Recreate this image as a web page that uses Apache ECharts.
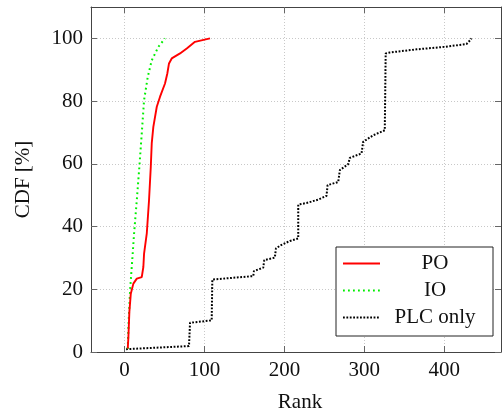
<!DOCTYPE html>
<html>
<head>
<meta charset="utf-8">
<script src="https://cdn.jsdelivr.net/npm/echarts@6/dist/echarts.min.js"></script>
<style>
  html, body { margin: 0; padding: 0; background: #fff; }
  #container { width: 502px; height: 419px; }
</style>
</head>
<body>
<div id="container"></div>
<script>
// data
var seriesNames = ['PO', 'IO', 'PLC only'];

var poRank = [4, 4.8, 6, 7.8, 11, 15.3, 21.5, 23.5, 24.4, 27.8, 30.6, 32.8, 34, 36, 40.3, 44.4, 50.6, 53.5, 55.6, 59, 69.4, 77.8, 88.1, 106.9];
var poCdf = [1.1, 4.8, 12.8, 18.6, 21.8, 23.4, 23.9, 27.1, 31.4, 37.8, 48.4, 59, 66.5, 71.8, 78.2, 81.4, 85.6, 88.8, 92, 93.6, 95.2, 96.8, 98.9, 100];

var ioRank = [4, 4.8, 6.9, 9, 11.9, 15.3, 18.5, 21.5, 24.4, 29, 34, 42.3, 50.6];
var ioCdf = [1, 8, 19.7, 27.1, 37.8, 48.4, 59, 69.7, 80.3, 87.7, 93, 97.3, 100];

var plcRank = [1.9, 80.6, 81.9, 109, 109.8, 161, 161.9, 173.5, 174.8, 188, 189.4, 195.2, 206.9, 217.3, 217.3, 227.7, 242.3, 252.7, 254, 267.3, 269.4, 279.8, 281.9, 296.5, 298.5, 311, 325.6, 326.7, 332, 365.5, 400.8, 427.8, 432.8, 434];
var plcCdf = [0.9, 1.9, 9.3, 10.1, 23.1, 24.2, 25.8, 26.9, 29.3, 30.1, 33, 34, 35.4, 36.2, 47, 47.5, 48.6, 49.8, 53.2, 54.2, 58, 59.9, 61.9, 63.3, 67, 69.1, 70.7, 95.2, 95.5, 96.5, 97.3, 98.2, 99.5, 100];

var xTicks = [0, 100, 200, 300, 400];
var yTicks = [0, 20, 40, 60, 80, 100];

function zip(xs, ys) {
    return xs.map(function (x, i) { return [x, ys[i]]; });
}

var font = 'Liberation Serif';
var axisColor = '#444';

var gridLine = {
    show: true,
    lineStyle: { color: '#c8c8c8', type: [1, 2], width: 1 }
};

function mainAxis(pos, ticks, min, max, extra) {
    var ax = {
        type: 'value',
        position: pos,
        min: min,
        max: max,
        axisLine: { show: true, onZero: false, lineStyle: { color: axisColor, width: 1 } },
        axisTick: { show: true, inside: true, length: 6, customValues: ticks, lineStyle: { color: '#666' } },
        axisLabel: { customValues: ticks, color: '#111', fontFamily: font, fontSize: 21, margin: 8 },
        splitLine: gridLine
    };
    return Object.assign(ax, extra || {});
}

function mirrorAxis(pos, ticks, min, max) {
    return {
        type: 'value',
        position: pos,
        min: min,
        max: max,
        axisLine: { show: true, onZero: false, lineStyle: { color: axisColor, width: 1 } },
        axisTick: { show: true, inside: true, length: 6, customValues: ticks, lineStyle: { color: '#666' } },
        axisLabel: { show: false },
        splitLine: { show: false }
    };
}

var myChart = echarts.init(document.getElementById('container'), null, { renderer: 'canvas' });

var option = {
    animation: false,
    backgroundColor: '#fff',
    grid: { left: 91, right: 1, top: 7, bottom: 67 },
    xAxis: [
        mainAxis('bottom', xTicks, -42, 471, {
            name: 'Rank',
            nameLocation: 'middle',
            nameGap: 40,
            nameTextStyle: { color: '#111', fontFamily: font, fontSize: 21, padding: [0, 0, 0, 8] }
        }),
        mirrorAxis('top', xTicks, -42, 471)
    ],
    yAxis: [
        mainAxis('left', yTicks, 0, 110, {
            name: 'CDF [%]',
            nameLocation: 'middle',
            nameGap: 57,
            nameTextStyle: { color: '#111', fontFamily: font, fontSize: 21 }
        }),
        mirrorAxis('right', yTicks, 0, 110)
    ],
    legend: {
        orient: 'vertical',
        left: 336,
        top: 247,
        width: 156,
        padding: [6, 8, 8, 6],
        itemGap: 6,
        itemWidth: 37,
        itemHeight: 14,
        backgroundColor: '#fff',
        borderColor: '#222',
        borderWidth: 1,
        borderRadius: 0,
        data: seriesNames,
        // hide the round marker, keep only the line sample
        itemStyle: { opacity: 0, borderWidth: 0 },
        formatter: '{t|{name}}',
        textStyle: {
            color: '#111',
            fontFamily: font,
            fontSize: 21,
            rich: { t: { width: 100, align: 'center', fontFamily: font, fontSize: 21, lineHeight: 22 } }
        }
    },
    series: [
        {
            name: seriesNames[0],
            type: 'line',
            showSymbol: false,
            symbol: 'none',
            data: zip(poRank, poCdf),
            lineStyle: { color: '#ff0000', width: 1.9 },
            itemStyle: { color: '#ff0000' },
            z: 4
        },
        {
            name: seriesNames[1],
            type: 'line',
            showSymbol: false,
            symbol: 'none',
            data: zip(ioRank, ioCdf),
            lineStyle: { color: '#00ee00', width: 2, type: [1.8, 3.2] },
            itemStyle: { color: '#00ee00' },
            z: 3
        },
        {
            name: seriesNames[2],
            type: 'line',
            showSymbol: false,
            symbol: 'none',
            data: zip(plcRank, plcCdf),
            lineStyle: { color: '#000', width: 2, type: [1.8, 1.6] },
            itemStyle: { color: '#000' },
            z: 2
        }
    ]
};

myChart.setOption(option);
window.addEventListener('resize', myChart.resize);
</script>
</body>
</html>
